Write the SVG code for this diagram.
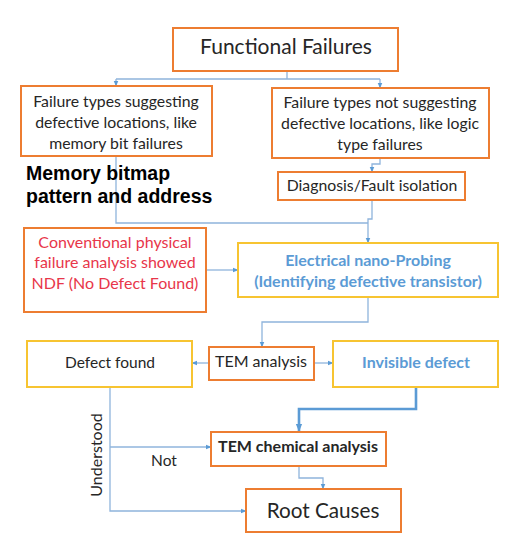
<svg xmlns="http://www.w3.org/2000/svg" width="531" height="553" viewBox="0 0 531 553">
<defs>
<style>
.ob{fill:#fff;stroke:#ed7d31;stroke-width:2}
.yb{fill:#fff;stroke:#f7c431;stroke-width:2}
.t{font-family:Lato,"Open Sans",sans-serif;fill:#262626;text-anchor:middle}
.c{fill:none;stroke:#8fb4dc;stroke-width:1.3}
.ct{fill:none;stroke:#5b9bd5;stroke-width:2.6}
</style>
<marker id="a" viewBox="0 0 10 10" refX="9" refY="5" markerWidth="6" markerHeight="6" markerUnits="userSpaceOnUse" orient="auto"><path d="M0,1 L10,5 L0,9 z" fill="#5b9bd5"/></marker>
<marker id="b" viewBox="0 0 10 10" refX="9" refY="5" markerWidth="8" markerHeight="8" markerUnits="userSpaceOnUse" orient="auto"><path d="M0,1 L10,5 L0,9 z" fill="#5b9bd5"/></marker>
</defs>
<rect width="531" height="553" fill="#fff"/>
<g id="connectors">
<path class="c" d="M287,71 V79 M116,79 H380 M116,79 V86" marker-end="url(#a)"/>
<path class="c" d="M380,79 V88" marker-end="url(#a)"/>
<path class="c" d="M380,158 V164 H372 V172" marker-end="url(#a)"/>
<path class="c" d="M116,156 V223 H368"/>
<path class="c" d="M372,200 V219 H368 V243" marker-end="url(#a)"/>
<path class="c" d="M207,270 H238" marker-end="url(#a)"/>
<path class="c" d="M368,297 V322 H262 V347" marker-end="url(#a)"/>
<path class="c" d="M209,363 H192" marker-end="url(#a)"/>
<path class="c" d="M314,363 H333" marker-end="url(#a)"/>
<path class="ct" d="M416,387 V409 H299 V431" marker-end="url(#b)"/>
<path class="c" d="M110,387 V511 H246" marker-end="url(#a)"/>
<path class="c" d="M110,447 H211" marker-end="url(#a)"/>
<path class="c" d="M299,466 V478 H323 V489" marker-end="url(#a)"/>
</g>
<g id="functional-failures">
<rect class="ob" x="173" y="28" width="225" height="43"/>
<text class="t" x="286" y="54" font-size="21">Functional Failures</text>
</g>
<g id="failure-suggesting">
<rect class="ob" x="21" y="86" width="191" height="70"/>
<text class="t" x="116" y="107" font-size="15.8">Failure types suggesting</text>
<text class="t" x="116" y="128" font-size="15.8">defective locations, like</text>
<text class="t" x="116" y="149" font-size="15.8">memory bit failures</text>
</g>
<g id="failure-not-suggesting">
<rect class="ob" x="272" y="88" width="217" height="70"/>
<text class="t" x="380" y="108" font-size="15.8">Failure types not suggesting</text>
<text class="t" x="380" y="129" font-size="15.8">defective locations, like logic</text>
<text class="t" x="380" y="150" font-size="15.8">type failures</text>
</g>
<g id="memory-bitmap">
<text x="26" y="180" font-family="Liberation Sans,Arial,sans-serif" font-weight="bold" font-size="19.5" fill="#000">Memory bitmap</text>
<text x="26" y="203" font-family="Liberation Sans,Arial,sans-serif" font-weight="bold" font-size="19.5" fill="#000">pattern and address</text>
</g>
<g id="diagnosis">
<rect class="ob" x="278" y="172" width="187" height="28"/>
<text class="t" x="372" y="191" font-size="15.8">Diagnosis/Fault isolation</text>
</g>
<g id="conventional">
<rect class="ob" x="24" y="228" width="182" height="84"/>
<text class="t" x="115" y="248" font-size="16" style="fill:#e8364a">Conventional physical</text>
<text class="t" x="115" y="268" font-size="16" style="fill:#e8364a">failure analysis showed</text>
<text class="t" x="115" y="289" font-size="16" style="fill:#e8364a">NDF (No Defect Found)</text>
</g>
<g id="nano-probing">
<rect class="yb" x="238" y="243" width="260" height="54"/>
<text class="t" x="368" y="266" font-size="16" font-weight="bold" style="fill:#5b9bd5">Electrical nano-Probing</text>
<text class="t" x="368" y="287" font-size="16" font-weight="bold" style="fill:#5b9bd5">(Identifying defective transistor)</text>
</g>
<g id="defect-found">
<rect class="yb" x="27" y="341" width="165" height="46"/>
<text class="t" x="110" y="368" font-size="15.5">Defect found</text>
</g>
<g id="tem-analysis">
<rect class="ob" x="209" y="347" width="105" height="33"/>
<text class="t" x="261" y="367" font-size="16">TEM analysis</text>
</g>
<g id="invisible-defect">
<rect class="yb" x="333" y="341" width="165" height="46"/>
<text class="t" x="416" y="368" font-size="16" font-weight="bold" style="fill:#5b9bd5">Invisible defect</text>
</g>
<g id="tem-chemical">
<rect class="ob" x="211" y="432" width="175" height="34"/>
<text class="t" x="298" y="452" font-size="16" font-weight="bold">TEM chemical analysis</text>
</g>
<g id="root-causes">
<rect class="ob" x="246" y="489" width="155" height="43"/>
<text class="t" x="323" y="518" font-size="20.7">Root Causes</text>
</g>
<g id="labels">
<text class="t" x="164" y="466" font-size="15.5">Not</text>
<text class="t" x="0" y="0" font-size="16" transform="translate(102,455) rotate(-90)">Understood</text>
</g>
</svg>
